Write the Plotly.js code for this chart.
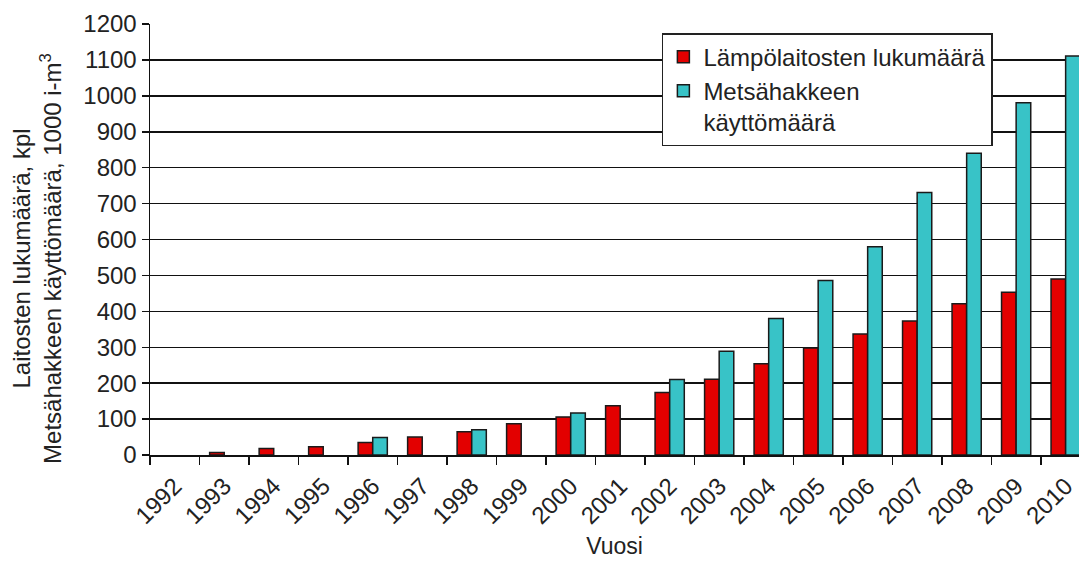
<!DOCTYPE html>
<html>
<head>
<meta charset="utf-8">
<script src="https://cdn.plot.ly/plotly-3.0.1.min.js"></script>
<style>html,body{margin:0;padding:0;background:#fff;overflow:hidden}</style>
</head>
<body>
<div id="chart" style="width:1079px;height:563px"></div>
<script>
const years = ['1992','1993','1994','1995','1996','1997','1998','1999','2000','2001','2002','2003','2004','2005','2006','2007','2008','2009','2010'];
const plantCount = [null, 7, 18, 23, 35, 50, 65, 87, 106, 137, 174, 211, 254, 298, 337, 373, 421, 453, 490];
const chipUse = [null, null, null, null, 49, null, 70, null, 117, null, 210, 289, 380, 486, 580, 731, 840, 981, 1111];
const seriesNames = ['Lämpölaitosten lukumäärä', 'Metsähakkeen<br>käyttömäärä'];
const yTicks = [0,100,200,300,400,500,600,700,800,900,1000,1100,1200];
const yTitle = 'Laitosten lukumäärä, kpl<br>Metsähakkeen käyttömäärä, 1000 i-m<sup>3</sup>';

const fontFam = '"Liberation Sans", Arial, sans-serif';
const traces = [
  {type:'bar', x: years, y: plantCount, name: seriesNames[0],
   marker:{color:'#e30000', line:{color:'#1a1a1a', width:1.5}}},
  {type:'bar', x: years, y: chipUse, name: seriesNames[1],
   marker:{color:'#38c3c7', line:{color:'#1a1a1a', width:1.5}}}
];
const layout = {
  width:1079, height:563,
  margin:{l:150, r:0, t:24, b:108},
  paper_bgcolor:'#fff', plot_bgcolor:'#fff',
  font:{family:fontFam, size:23, color:'#222'},
  barmode:'group', bargap:0.41, bargroupgap:0,
  xaxis:{type:'category', range:[-0.5, 18.27], tickson:'boundaries',
    ticks:'outside', ticklen:8, tickwidth:1.5, tickcolor:'#111',
    showline:true, linecolor:'#111', linewidth:1.5, showgrid:false,
    tickangle:-45, tickfont:{size:24, color:'#222'}, ticklabelstandoff:6,
    title:{text:'Vuosi', font:{size:23, color:'#222'}, standoff:10}},
  yaxis:{range:[0,1200], tickvals:yTicks, ticktext:yTicks.map(String),
    ticks:'outside', ticklen:7, tickwidth:1.5, tickcolor:'#111',
    showline:true, linecolor:'#111', linewidth:1.5,
    showgrid:true, gridcolor:'#111', gridwidth:1.5, zeroline:false,
    tickfont:{size:24, color:'#222'}},
  annotations:[{text:yTitle, xref:'paper', yref:'paper', x:-0.1216, y:0.455,
    xanchor:'center', yanchor:'middle', textangle:-90, showarrow:false,
    font:{size:24, color:'#222'}}],
  legend:{x:0.551, y:0.979, xanchor:'left', yanchor:'top', bgcolor:'#fff',
    bordercolor:'#222', borderwidth:1.5, font:{size:24, color:'#222'},
    traceorder:'normal', valign:'top', itemwidth:30},
  showlegend:true
};
Plotly.newPlot('chart', traces, layout, {displayModeBar:false, staticPlot:true});
</script>
</body>
</html>
